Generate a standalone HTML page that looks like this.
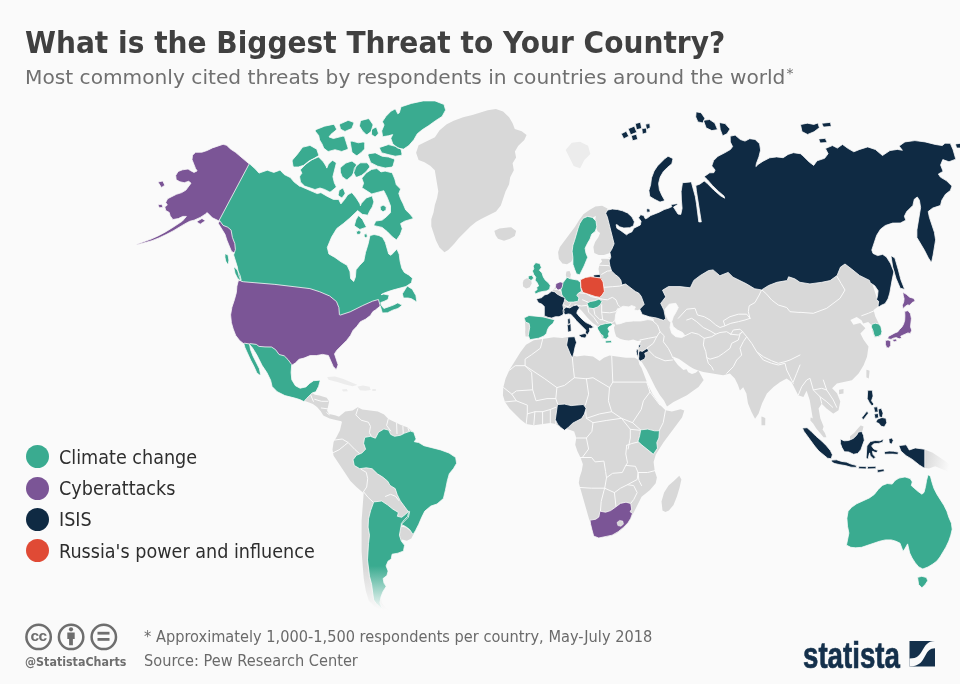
<!DOCTYPE html>
<html lang="en">
<head>
<meta charset="utf-8">
<title>What is the Biggest Threat to Your Country?</title>
<style>
html,body{margin:0;padding:0;}
body{width:960px;height:684px;overflow:hidden;background:#fafafa;font-family:"DejaVu Sans","Liberation Sans",sans-serif;position:relative;}
#map{position:absolute;left:0;top:0;width:960px;height:684px;}
h1{position:absolute;left:25.3px;top:21px;margin:0;font-size:30.2px;line-height:44px;font-weight:bold;color:#404040;white-space:nowrap;transform-origin:0 0;transform:scaleX(0.9295);}
h2{position:absolute;left:25px;top:62.7px;margin:0;font-size:19.6px;line-height:30px;font-weight:normal;color:#707070;white-space:nowrap;transform-origin:0 0;transform:scaleX(1.029);}
h2 sup{font-size:13.5px;line-height:0;position:relative;top:2px;left:1px;vertical-align:super;}
.leg{position:absolute;left:26.2px;height:24px;}
.leg i{position:absolute;left:0;top:0.5px;width:23px;height:23px;border-radius:50%;}
.leg span{position:absolute;left:32.6px;top:1.1px;font-size:19.1px;line-height:24px;color:#2e2e2e;white-space:nowrap;transform-origin:0 0;transform:scaleX(0.922);}
.foot{position:absolute;left:144px;font-size:16.2px;line-height:20px;color:#6a6a6a;white-space:nowrap;transform-origin:0 0;transform:scaleX(0.9);}
.handle{position:absolute;left:25px;top:654.1px;font-size:12px;line-height:16px;font-weight:bold;color:#6e6e6e;white-space:nowrap;transform-origin:0 0;transform:scaleX(0.925);}
.logo{font-family:"Liberation Sans",sans-serif;position:absolute;left:802.7px;top:634.3px;font-size:36.8px;line-height:44px;font-weight:bold;color:#14304b;white-space:nowrap;transform-origin:0 0;transform:scaleX(0.752);-webkit-text-stroke:0.7px #14304b;}
</style>
</head>
<body>
<svg id="map" viewBox="0 0 960 684" width="960" height="684">
<defs>
<linearGradient id="fadeS" x1="0" y1="0" x2="0" y2="1"><stop offset="0" stop-color="#fafafa" stop-opacity="0"/><stop offset="1" stop-color="#fafafa" stop-opacity="1"/></linearGradient>
<linearGradient id="fadeE" x1="0" y1="0" x2="1" y2="0.25"><stop offset="0" stop-color="#fafafa" stop-opacity="0"/><stop offset="1" stop-color="#fafafa" stop-opacity="1"/></linearGradient>
</defs>
<path fill="#ececec" d="M327.3,377.4 327.6,377 335,376.4 343.4,379.1 357,384.7 357.2,385.1 352.6,386.2 345.3,384.5 339,382.4 328.6,379.7Z M357.6,386.9 357.8,386.4 363,385.4 369.5,386.8 370.8,390.1 365.2,390.8 360,390.2Z M342,390.1 342.2,389.6 346.4,388.9 346.7,389 347.8,390.9 347.5,391.2 343.3,391.6Z M372.2,389.2 372.5,388.9 375.9,389 375.9,391.1 372.3,391.1Z M565.7,150.1 565.8,149.8 571.8,142.8 580,141.7 588.1,145.7 590.3,153.9 584.2,160.2 580.3,168.1 579.9,168.3 573.7,166.1Z"/>
<path fill="#d8d8d8" d="M641.5,340.4 637.5,340.9 633.2,339.4 628.9,340.6 624.5,340.1 620,338.7 616.2,336.5 614.7,331.9 613.9,327.5 615.3,324.7 612.8,324 610,324.8 608.6,325.4 607.2,328.1 608.7,331.9 605.8,337.7 602.4,338.7 600.8,334.8 598.6,330.4 597.9,326.9 596.5,325.5 593.4,323.5 590.5,320.8 587.3,317.4 581.7,310.8 578.8,308.1 573.3,306.7 563.8,312.1 562.3,315 558.9,316.4 555.4,316.4 552.3,317.6 554.1,320.1 554.2,320.4 552.7,323.3 549.2,326 547.2,329.4 546.4,333 543.6,335.9 538.6,337.9 530.4,339.3 530,339.2 528.4,336.5 525.6,336.4 525.1,322.8 524.4,318.1 528.9,315.8 542.7,317.2 544.6,315.3 544.6,306.5 541.9,303.9 538.3,302.3 536.9,299.3 541.9,297.8 544.8,295 548.2,294.3 551.6,291.6 554.3,288.8 556.6,283.9 560,282.5 562.8,283.2 566.8,277.8 566.4,271.9 566.6,271.6 569.3,271.1 569.7,271.3 570.9,274.5 570.2,277.8 573.4,279.7 577.7,280.5 579.9,282.3 581.6,279.7 585.7,277.6 590.7,276.9 594.3,277.5 593.2,275.8 593.3,275.4 599.5,274.7 598.5,269 599.6,263.9 602.1,261.4 601,259.1 601.3,258.7 607.1,258.2 611.3,257 624.9,249.7 700,229.7 800,229.7 863.1,255.7 879.3,305.4 879.2,305.7 873.6,310.1 875.3,316.6 878.6,323.2 881,329.9 880.3,336 880.1,336.3 875.1,337.6 874.7,337.4 872.4,331.7 871.4,325.1 868.2,322 863.2,323.6 861.5,320.2 856.7,317 850.4,320.1 853.4,324.7 860.2,323.1 865.2,328.1 865.2,328.5 860.4,333.4 863.6,339.8 868.5,346.5 867,356.7 863.6,365.2 858.6,373.5 851.9,380.2 836.9,383.6 832.1,388.3 837,393.2 840.3,401.6 838.5,410.3 833.5,413.6 833.1,413.5 826.5,408.5 821.7,403.8 818.6,408.4 820.3,418.2 823.6,426.6 822,431.8 821.7,432 816.5,426.9 813,420.1 809.7,400.1 806.6,390.8 803.4,397 798.2,395.3 791.5,381.9 786.7,378.6 780.2,382 773.5,386.9 766.9,393.5 762,403.4 758.6,413.4 755.3,418.5 754.9,418.6 751.4,411.8 748,403.4 746.4,393.4 743.2,387.2 740.2,390.2 739.8,390.3 738,385.1 734.8,378.5 729.9,373.6 723.2,375.3 703.3,372 697.4,370.3 693.2,368.6 689.8,366.6 679.1,359.1 672.9,356.5 673.5,359.2 677.9,365 683.4,369.9 686.6,369.2 688.2,372.3 692,374 695.7,372.7 698.1,370.8 698.6,370.9 703.6,379.9 703.5,380.2 698.5,386.9 686.9,395.2 673.5,402 667,406.5 664,400.5 659.8,395 655.4,387.4 646.6,369.7 641.5,361.6 639.8,361.3 639.5,361.1 637.6,353.6 639.1,344.9Z M416.1,152.7 418.6,145.3 434.9,137.2 439.6,130.2 446.7,124.3 453.7,120.8 463.1,117.2 472.4,114.9 487.7,110.2 495.9,109.1 503.1,111.5 509.1,117.3 512.6,123.2 514.8,129 521.7,131.3 526.6,135 524.3,139.9 518.3,145.8 514.9,151.6 516.1,157.5 512.6,163.3 513.8,170.3 510.2,177.3 509.1,184.3 505.6,191.3 500.8,205.5 496,211.4 482,218.4 476.2,221.8 470.4,226.5 458.7,238.2 454,244.1 448.2,249.9 444.4,252.3 439.5,247.5 436,240.5 431.3,226.3 431.3,219.2 433.6,212.2 434.8,205.2 437.1,198.1 438.3,191.2 434.8,170.3 430.2,165.7 424.5,162.3 418.6,159.9Z M494.4,231.1 494.6,230.7 499.4,228.4 511.1,227.2 516,230.8 516.1,231.1 514.8,236 510,238.8 504,240.7 498,238.7 495.6,235.3Z M302.7,396.9 302.9,396.5 307.7,394.4 312.5,393.1 314.8,394.8 319.4,395.6 326.7,397.7 329.2,401.4 327.1,410.8 329.1,414 335,415.3 339.2,416.7 342,418.9 342,419.3 340.1,420.9 334.8,419.8 329.6,418.6 323.3,415.4 320.7,411.2 317,407 312.9,403.9 307.7,401.9 304.1,400.8Z M338.8,417.2 338.9,416.8 345.2,411.6 352.6,410.5 357.7,407.3 362.2,409.4 377.9,411.5 384.1,414.6 388.4,418.9 400.9,425.1 407.1,427.2 411.4,430.4 415.7,438.9 413.8,441.9 418.7,442.8 423.9,446 440.6,450.2 448.9,453.3 455.4,457.7 456.4,463.2 453.2,468.4 449.1,473.5 447,480.9 445.1,490.3 443,498.6 436.8,503.7 430.6,505.9 424.5,510.9 421.6,516.9 418.5,524.1 411.3,538.4 406.9,540.7 402,539.6 401.1,541.4 404.2,545.6 403.2,550.7 397.8,552.9 391.9,554 390.9,558.9 387.7,561 385.8,565.9 387.8,570.9 386.8,575.2 382.7,578.3 383.7,583.2 385.7,586.2 385.8,586.6 382.7,591.6 380.7,596.6 381.7,602.7 385.7,607.7 389.8,610.7 389.9,610.9 389.6,611.2 383.3,610.2 375,607.1 368.8,600.8 365.7,590.6 363.7,578.2 361.6,551.6 361.6,520.9 363.7,492.6 362.9,492.5 356.7,487.2 350.4,481 333.6,455.8 332.5,449.4 333.6,442.1 336.7,436.8 339.9,430.5 341.9,422.2Z M523.7,279.9 526.8,278.3 529,278.6 531.1,279.7 531.7,283.6 529.7,287.2 526.2,288.6 523.1,286.4 522.8,282.8Z M525.1,322.8 525.4,322.5 529.6,323 529.9,323.3 530.3,327.2 528.9,336.2 528.6,336.5 525.8,336.5 525.5,336.2 525.1,331.4 525.8,327.2Z M558.1,252.3 559.9,247 575,226.8 579.2,220.1 583.4,214.2 589.4,209.9 595.4,206.6 602.1,205.7 607.5,208.4 606.5,212.9 600.6,213 592.2,218.1 587.8,217.3 583.8,218.8 580.6,223.8 573.8,245.6 573,251.4 573.8,257.3 571.2,261.8 567,264.3 562.4,263.4 558.9,259Z M595.9,215.3 600.5,212.4 606.3,212.4 606.6,212.6 608.3,216.9 615,243.8 612.5,249.8 609.1,253.3 603.9,255.1 598.7,255.1 594.3,253.1 593.4,247.1 595.1,242.1 598.5,237 600.1,233 597.6,231.3 595.9,227 595.1,221.2Z M566.4,271.8 566.6,271.6 569.3,271.1 569.7,271.3 570.9,274.5 570.1,278.1 567.1,278.2 566.8,278 565.8,275Z M526,344.7 533.8,340.2 542.6,339.1 553.6,337.3 562.3,338 567.8,336.9 574.4,337.3 574.7,337.5 575.8,342.8 574.7,348.3 572.6,355.6 576.6,356.6 584.3,355.5 593,356.6 599.6,360.9 603.9,357.7 609.5,355.5 625.9,357.7 634.9,357.8 638.3,360.1 639.4,364.5 641.5,367.8 648.1,385.3 652.5,394 656.8,400.6 660.1,404.9 665.5,410.3 671.9,411.4 680.6,409.2 684.3,410.5 682,417.4 663.4,442.6 659.1,449.2 655.8,454.6 653.6,462.1 654.7,470.8 656.9,477.4 655.7,483.2 650,490 641.6,496.7 631.6,516.8 624.7,527 616.2,533.8 606.1,537.2 597.5,535.5 592.3,528.6 588.9,518.5 578.8,483.1 579.6,477.5 581.8,470.8 582.9,464.3 580.7,457.9 577.4,451.3 575.2,444.7 576.3,438 574.2,431.6 568.8,429.6 562.3,428.5 555.7,424.1 550.3,423 533.8,425.2 526.2,424.1 520.5,419.6 509.5,408.6 505,402 502.9,395.3 503.3,387.5 505.5,378.7 509.4,369.9 520.4,352.3Z M662.5,510.5 661.5,501.4 664.1,492.4 668.6,485.4 673.8,481 679.3,475.7 681.4,479.6 679.6,487.5 677,496.2 673.5,505 668.9,510.5 665.4,511.9Z M924,449.7 924.4,449.4 932.2,452.5 939.9,457.5 947.5,462.7 952.1,468.9 950.7,472.3 950.3,472.5 935.1,466.3 929,468.5 924.1,467.7Z M866.4,370 866.8,369.7 869.6,370.8 868.8,378.6 866.6,377.6 866.4,377.3Z M839,390 839.2,389.7 843.5,389.1 843.5,393.5 839.1,394.2Z M761.4,416.7 761.8,416.4 765.1,418 765.3,418.3 765.2,425.2 761.5,425.2Z M850,436.3 854.1,432.9 857.4,428.9 860.6,425.6 860.9,425.5 863.5,426.5 862.7,430 861.9,431.9 858.6,432.6 857,435.7 853.7,438.9 850.1,439.4Z M810.6,417.8 811,417.5 814.3,419.2 817.5,424 821.6,428.1 824.9,433 826.4,437.3 823.6,437.3 816.3,428.5 813.1,423.6 810.4,420.4Z"/>
<path fill="#fafafa" stroke="#fafafa" stroke-width="0.8" stroke-linejoin="round" d="M617.9,309.1 623,306.2 628.9,306.9 631.5,305.5 635.4,306.9 634,309.9 637.6,310.6 642,309.1 644.9,311.3 642.7,313.5 649.3,316.4 653.7,319.4 653.7,320.4 647.9,319.6 640.6,321 633.2,321 625.9,321.7 620.1,323.7 616.4,324.2 615,320.1 615.7,314.2Z M665,309.2 669.2,304.2 675.8,303.3 678.3,307.5 675.8,312.5 673.3,316.7 671.7,321.7 673.3,326.7 677.5,330 682.5,332.5 685,335.8 681.7,337.5 675.8,336.7 671.7,333.3 670,327.5 670.8,322.5 668.3,320 665.8,315Z"/>
<path fill="none" stroke="#fafafa" stroke-width="1" stroke-linejoin="round" stroke-linecap="round" d="M357.9,408.7 355.8,414.9 361.1,420.2 368.4,422.2 370.5,426.4 369.4,432.7 371.9,437.3 M388.2,419.1 386.6,425.4 390.7,431 M396.6,423.3 397,433.7 M402.9,426.4 403.3,434.4 M408.1,428.5 409.5,432.3 M334.9,440 342.2,439 348.1,442.5 354.8,449.4 360,454 M333.5,452.5 339.1,449.8 344.8,445.2 348.1,442.5 M363.1,492.3 366.7,487 367.7,478.7 366.3,472.4 361.1,469.3 M364,492.3 368.1,497.4 373.6,502.5 M385.5,496.4 390.6,494.3 395.7,496.4 398.8,500.5 M400.8,526 405.9,527.1 410,530.1 M678.3,318.3 686.7,309.2 695,308.3 697.5,315 704.2,316.7 710,320 715.8,325 720,327.5 725,325.8 723.3,320.8 730,316.7 738.3,314.2 746.7,314.2 750,318.3 M750,318.3 748.3,311.7 749.2,305.8 755,302.5 759.2,295 761.7,289.7 766.7,294.2 771.7,300 778.3,305 786.7,307.5 790,311.7 800,312.5 M685,335.8 691.7,332.5 698.3,334.2 704.2,338.3 711.7,336.7 715.8,334.2 720,332.5 726.7,331.7 730.8,334.2 M686.7,320 691.7,318.3 696.7,321.7 703.3,327.5 710,330.8 715.8,334.2 M725,325.8 730.8,323.3 738.3,321.7 745,320 750,318.3 M730.8,334.2 733.3,330 740,329.2 742.5,331.7 738.3,335 730.8,334.2 M742.5,331.7 740,334.2 738.3,340 731.7,343.3 730,348.3 723.3,353.3 718.3,356.7 710,359.2 706.7,357.5 M704.2,338.3 703.3,345 705.8,351.7 706.7,357.5 708.3,363.3 711.7,366.7 713.3,370 M650,318.3 657.5,325 660,331.7 664.2,335.8 663.3,341.7 668.3,348.3 671.7,355 672.5,357.5 M640,340 648.3,338.3 656.7,336.7 660,331.7 M656.7,336.7 653.3,343.3 646.7,348.3 655,356.7 665,360.8 672.5,360 M742.5,331.7 746.7,336.7 743.3,341.7 740,348.3 741.7,355 736.7,360 733.3,366.7 730,370 726.7,373.3 M746.7,336.7 751.7,343.3 756.7,351.7 763.3,356.7 771.7,360.8 778.3,363.3 785,361.7 790,360 795,357.5 800,355 M756.7,351.7 763.3,360 771.7,363.3 778.3,365 785,363.3 786.7,370 790,376.7 793.3,383.3 M800,312.3 813.3,313.3 826.7,308.3 840,298.3 845,290 841,283.3 836.7,276 M861.7,315.7 868.3,313.3 874.3,310.7 M542.6,339.4 540.4,348.2 531.6,354.7 525.1,359.1 525.1,365.7 515.2,365.7 509.7,370.1 M525.1,365.7 531.6,372.3 532.7,389.8 516.3,390.9 511.9,394.2 M525.1,365.7 544.8,378.8 556.9,387.6 564.5,385.4 574.4,377.7 586.4,378.8 M572.2,356.5 573.3,367.9 574.4,377.7 M611.7,355.8 612.8,382.1 646.7,382.1 M586.4,378.8 593,377.7 609.5,387.6 612.8,382.1 M586.4,378.8 588.6,394.2 585.4,405.1 M609.5,387.6 608.4,400.8 611.7,411.7 621.5,418.3 632.5,422.7 641.2,430.4 M556.9,387.6 555.8,398.6 558,405.1 M532.7,389.8 536,400.8 547,398.6 555.8,398.6 M526.2,423.8 527.3,413.9 534.9,411.7 M533.8,424.9 534.9,411.7 542.6,411.7 M542.6,423.8 542.6,411.7 550.3,409.5 M550.3,422.7 550.3,409.5 555.8,407.3 M555.8,423.8 555.8,419.4 M505.3,401.9 516.3,400.8 527.3,405.1 527.3,413.9 M503.6,387.6 511.9,394.2 516.3,400.8 M585.4,408.4 586.4,418.3 593,422.7 591.9,431.4 586.4,438 576.6,438 M586.4,418.3 599.6,413.9 611.7,411.7 M593,422.7 606.2,420.5 621.5,418.3 M586.4,438 588.6,449 582.1,457.8 M621.5,418.3 630.3,429.3 630.3,438 628.1,449 M630.3,429.3 641.2,430.4 M646.7,382.1 650,392 643.4,400.8 641.2,409.5 632.5,422.7 M665.4,410.6 663.2,422.7 658.8,431.4 M650,392 659.9,405.1 M600.4,511.9 601.2,501.4 603.9,490.9 604.7,488.2 M578.4,487.4 591.6,488.2 604.7,488.2 614.4,492.6 616.1,507.5 M614.4,492.6 620.5,488.2 627.5,484.7 633.7,485.6 637.2,492.6 633.7,499.6 630.2,504 M604.7,488.2 606.5,477.7 612.6,473.3 622.3,472.5 625.8,465.4 635.4,466.3 638.1,472.5 637.2,479.5 627.5,484.7 M579.3,457.5 591.6,457.5 595.1,461.9 603.9,461.1 605.6,471.6 606.5,477.7 M638.1,472.5 647.7,472.5 654.7,470.7 M638.1,472.5 638.9,480.4 641.6,485.6 M626.7,445.3 625.8,454 627.5,462.8 625.8,465.4 M638.9,441.8 652.1,453.2 M626.7,445.3 631.9,443.5 638.9,441.8 M601.7,274.3 607.3,271.1 612.3,270.5 615,269.9 M604.2,287.3 612.3,286.7 619.8,286.1 624.8,284.2 M601.7,299.1 607.3,299.8 612.3,297.3 616,299.8 617.9,304.7 619.8,306.6 M601.7,312.2 609.8,312.8 616,311.6 617.9,308.5 M601.7,304.7 601.7,312.2 602.6,319.7 608.6,322.1 612.3,322.8 616,319.7 617.3,317.2 M599.3,257.7 611.1,258.7 M599.3,265.2 611.1,265.8 M575,291 580,292.9 586.2,293.5 591.2,296.6 597.4,297.9 601.7,299.1 M582.5,299.8 588.1,302.2 M575,304.7 581.2,306 587.4,305.3 588.7,312.2 593.7,317.2 598,323.4 M593.7,308.5 594.9,314.7 599.9,319.7 602.6,319.7 M554.6,289.3 558.1,289.7 561.5,291.4 562.2,294.6 M562.9,302.2 564.3,305.7 568.5,306.7 570.6,303.6 M566.7,277.9 569.9,278.3 M310.9,395.5 313.4,401.3 M314.7,399.3 321.3,401.3 328,401.3 M321.3,408 328,408.9 M326.8,412.8 329.3,414.7 M798.3,395 801.7,386.7 806.7,380 810,378.3 813.3,390 820,396.7 821.7,403.3 M823.3,380 826.7,390 833.3,400 836.7,407.3 M813.3,390 821.7,388.3 826.7,390 M820,396.7 826.7,401.7 832.7,407.3 M793.3,381.7 796.7,373.3 800,365"/>
<path fill="#7b5596" stroke="#fafafa" stroke-width="0.8" stroke-linejoin="round" d="M249.8,164.6 219.6,221.3 212.4,217.8 207.2,212.6 205.3,214.2 200.3,217.4 194.1,220.2 189.7,221.3 184.8,223.9 173.1,230.9 166.1,234.6 159,237.9 152,240.7 137.1,244.8 136.7,244.6 136.9,244.2 151,239.1 158,235.9 165,232.2 171.9,228 182.4,221.1 186.4,216.4 182.7,216.4 178.3,218.6 173.1,219.5 172.8,219.4 170.2,215.9 169.2,212.4 165.7,210.5 164.8,206.8 167.3,205.1 165.7,202.4 167.6,198.7 176.4,194.3 181.7,192.6 185.9,190.1 191,183.2 188.7,181.3 184.3,182.7 179.9,181.8 176.2,179.7 175.7,175.4 178.1,171.5 182.5,169.8 188.1,169 190.7,170.7 194,172.4 197.1,170.9 195.5,168.4 192,159.6 192.5,155.2 195.6,152.3 201.9,152.2 207.1,150.5 212.4,147.9 223.1,144.3 226.7,145.3 230.2,148.8 235.5,152.3 249.7,164.3Z M219.7,219.5 220.1,219.4 220.5,219.6 224,224.5 228.4,226.2 232.3,229.7 233.6,237.1 236,243.4 236.6,249.6 235,252.8 234.7,253.1 234.2,253 231.4,251.2 226.9,240.2 225,234.3 218.5,223.8 218.4,223.3Z M158.4,182.7 158.3,182.2 158.8,181.8 162.8,181 164.8,185.2 161.9,187.3 161.5,187.4 161.1,187.1Z M158.3,205.4 158.4,204.9 158.8,204.6 161.9,204.3 162.7,206.8 162.6,207.2 162.2,207.5 159.2,207.8Z M196.9,222 197.2,221.3 201.6,218.7 202.2,218.7 205.2,220.4 204.9,221.1 200.2,224.2Z M238.2,281 238.8,280.6 243.8,280.6 275,283.2 310.2,287.4 320.2,290.6 330.2,294.9 337.4,300.7 340.1,307.3 340.5,313.7 349.8,310.6 362.2,304.5 372.3,300 378.6,298.2 379.1,298.3 379.4,298.6 381.1,304.8 380.9,305.5 375.4,310 372.9,311.6 370.4,315.5 365.4,319.3 360.4,321.7 356.7,326.6 353,330.4 350.5,335.4 346.7,340.4 336.7,350.4 334.5,353.9 338.1,364.8 336.5,369.3 335.8,369.2 333.2,366.4 328.4,355.5 322.5,354.4 316.3,355.6 310.1,355.6 304,358.1 299.1,359.3 295.3,363 291.5,365.5 291.1,365.6 290.7,365.4 287,360.4 283.5,356.7 278.3,355.4 274.6,350.4 271,348.1 265,348.1 258.8,347.6 256,345.6 249.9,344.8 244.5,344.4 239.6,340.5 235.7,335.4 233.2,329 231.4,322.7 230.6,314.9 231.9,307.3 234.4,299.8 236.4,292.4 236.9,286.2Z M555.8,284.1 556.4,283.4 559.8,282 560.3,281.9 563.1,282.6 563.6,283 563.8,283.6 563.4,286.3 561.5,288.9 558.3,289.9 557.4,289.6 555.7,287.5 555.5,286.8Z M590.1,520.8 590.2,520.3 590.6,520.1 595.8,519.2 598.9,516.9 599.8,511.8 600.1,511.4 600.5,511.3 605.6,512.2 610.6,510.6 615.7,507 620.4,503.4 626,502.2 630.4,503.4 630.8,503.9 631.7,509.2 630.1,511.7 632.5,513.5 630.7,518.4 627.9,522.9 623.6,527.3 618.2,531.7 612.1,535.2 598.7,538 594,536.2 593.6,535.8 591.9,529.6 590.6,524.3Z M902.9,292.9 903.4,292.6 906.3,294.3 909.7,297.2 913.8,298.4 915.2,301.2 912.2,302.5 909.8,305.3 907.4,304.9 905.2,306.5 903.2,308.4 902.9,308.2 902.3,305.2 903.7,302.1 904.1,298.7 903.3,295.9Z M904.7,311.6 904.9,311.3 907.8,310.7 908.1,310.8 910.5,313.8 911.4,318.6 910.5,326.8 911.7,330.2 910.5,333.3 910.1,333.5 907.9,332.9 900.7,336.2 901.8,338 899.2,338.8 896.2,337.6 893.4,338.2 891,339.4 887.9,338.8 887.7,338.4 888.4,336.4 894.9,332.9 897.8,331.8 899.5,329.5 901.8,327.2 903.5,324.3 904.7,320.3 904.9,315.7Z M885.4,340.8 885.6,340.5 888.1,339.9 890.5,341.1 890.7,341.4 890.7,345.5 888.8,348 888.5,348.1 886.5,347.4 885.4,344.3Z M892.5,339.7 892.7,339.4 896.3,338.9 897,340.9 893.8,342Z"/>
<path fill="#3aab90" stroke="#fafafa" stroke-width="0.8" stroke-linejoin="round" d="M249.6,344.6 249.4,344.2 249.6,343.7 250.1,343.6 256.3,344.4 259,346.4 265,346.9 271.5,347 275.5,349.6 279.1,354.5 284.2,355.8 288,359.6 291.7,364.6 291.1,372.5 291.8,379.8 295.4,385.7 300.1,388.2 305.9,386.9 309.6,383.4 313.5,380.7 319.5,380.2 320,380.4 320.1,381 318.6,386.4 316,391.5 315.7,391.8 312.1,393 306.6,398.4 303.9,401.6 299.8,399.6 294.8,398.1 284.9,395.6 277.2,391.7 272.1,386.6 270.6,380.2 267,372.8 262,365.3 257,355.3 252.5,347.9Z M243.9,344 244.2,343.3 244.6,343.2 249.1,343.9 249.6,344.4 250.6,349.8 253,356 259.4,368.7 260.6,374.4 260.5,374.8 260.1,375.1 259.7,375 257,373.2 254,366.5 250.7,360.2 245,347.7Z M299.3,185.9 299.6,186.3 300.2,186.2 317.2,193.6 320.7,192.7 321.1,192.8 327,196.2 333.4,199.4 338.3,199.4 338.8,199.7 340.9,203.9 344.5,199.6 347.8,194.7 351.4,192.8 352.2,192.9 356.3,198 360,203.9 360.4,205.8 361.4,203.3 366.3,197.9 371.5,196.1 372,196.2 372.3,196.5 373.9,201.9 372.3,206.9 369.6,211.2 367.8,215.2 362.2,214.3 357.7,210.6 349.9,218 343.7,223.3 336.8,228.5 331.6,237.1 327.3,247.4 328.9,254 334.9,257.4 341,261.8 347.1,265.3 350,271.7 350.6,278.6 353.7,281.5 355.4,277.1 356,269.8 359.6,265.4 363.8,261.1 365.5,252.5 368.2,243.7 369.9,235.9 370.4,235.4 374.1,234.5 378.9,235.5 382.6,237.4 385.3,242.3 388.7,254 391,255.3 396.4,249.6 397.1,249.5 399.2,254.3 400.1,261.3 401.8,268.2 404.3,272.4 408.6,274.9 412.2,277.9 412.4,278.5 411.5,282.6 411.2,283 405.9,286.5 392.7,290.1 387.4,291.8 383.1,293.5 381.1,294.7 383.8,294.1 388.5,295 388.9,295.3 389,295.7 388.1,299.2 387.8,299.6 384,301.4 380.8,302.5 381,304.1 381.4,305.4 383.9,308.4 388.7,306.8 394,304.8 397.4,303 398,303 401.5,304.8 401.7,305.1 401.6,305.8 397.9,308.5 392.7,310.2 387.5,312.8 382.8,312.9 382.2,312.5 380.3,306 379.9,305.4 379.8,304.3 378.4,299.5 372.7,301.1 362.8,305.5 350.2,311.8 340.2,315.1 339.7,315 339.4,314.5 338.9,307.6 336.5,301.6 329.7,296 319.8,291.8 309.9,288.6 274.9,284.4 243.8,281.8 241.5,281.4 241,281 238.6,274.7 237.4,267.1 233.6,254.9 235.4,249.6 234.8,243.6 232.4,237.4 231.1,230.1 227.7,227.2 223.1,225.4 219.5,220.4 219.5,219.7 249,164.2 249.4,163.9 249.9,164.1 255.4,169.1 259,173.1 267.3,170.2 273.8,172.4 279.8,170.2 280.4,170.4 284.2,174.5 290.3,177.5 294.2,182.1Z M225,254.5 225.5,253.9 225.9,254 227.8,255 228.1,255.4 228.9,260.1 228.4,263.6 228.1,264 227.7,264.1 227.3,263.8 225.7,261.1 224.9,257.1Z M233.9,268.1 234,267.6 234.5,267.4 234.9,267.6 237.5,270.2 240.1,275.4 241.1,279.9 241,280.3 240.6,280.6 240.1,280.5 237.5,278.3 235,273.3Z M406.9,286.5 407.3,286.2 407.7,286.3 412.3,289.2 415.9,295.5 416.7,300.8 416.6,301.2 416.2,301.5 415.8,301.4 411.6,298.8 408.1,298 403.9,298 403.3,297.5 402.4,294 402.5,293.6Z M400.9,107.3 401.4,106.7 411.4,103.4 423.1,100.9 435,100.9 443.6,104.3 444.1,104.8 445.5,109.8 445.4,110.4 442.1,116.5 435.5,120.7 428.8,125.6 422.2,129.8 417.3,133.8 413.9,139.7 408.9,145.5 403.7,149 403.2,149.1 397.8,148.1 392.8,143.9 390.9,138.5 391,137.9 392.7,134.6 388.4,135.8 383.4,136.6 382.8,136.4 382.5,135.9 381.7,130.9 384.1,125 382.6,122.1 382.6,121.3 386,116.3 391.1,111.1 394.6,109.3 395.2,109.2 395.7,109.6 397.8,113.8 399.3,112.8Z M379.7,148.8 379.7,147.8 380.4,147.2 387.9,144.7 388.6,144.6 395.3,146.3 400.5,148.9 401.2,149.8 402,154 401.8,154.9 401,155.4 395.2,156.2 388,154.5 382.2,152.9 381.4,152.2Z M368,155.5 368.1,154.3 369,153.7 374.8,152.9 375.6,153 382.1,156.2 388.5,157 393.7,158.8 394.4,159.4 394.6,160.3 393,166.1 391.9,167.1 385.2,168 377.7,166.2 371.1,162.9 370.5,162.2Z M315.6,131.7 315.3,130.4 316.2,129.5 324.5,126.2 333,124.4 333.9,124.5 334.6,125.2 336.3,128.6 336.4,129.5 335.9,130.3 331,134.3 329,136.9 333.4,138.5 343,136.1 344,136.3 344.6,137.1 348,147.8 348,148.9 347.2,149.6 342.2,151.3 341.4,151.4 335,149.7 328.6,151.4 327.5,151.1 324.2,148.6 323.7,148 322,143.9 319.6,139.9 318.7,135.6Z M350.3,142.7 350.5,141.8 351.1,141.2 352,141.1 358.4,142.8 363.1,141.9 364.2,142.2 364.7,143.3 364.7,148.3 364.3,149.3 361,152.7 357.5,155.3 356.7,155.6 355.9,155.3 352.5,152.8 351.9,152Z M339.5,125.3 339.6,124.4 340.3,123.8 347.8,120.5 348.8,120.5 353,122.1 353.7,122.8 353.7,123.8 352,128 351.3,128.7 345.5,131.2 344.4,131.2 341.1,129.5 340.4,128.6Z M360.4,121.4 361.4,120.4 368,118.7 368.8,118.8 369.4,119.3 372.8,124.3 372.9,125.4 371.2,131.2 370.8,131.8 367.5,134.3 366.6,134.6 365.8,134.2 362.4,130.9 359.7,126.5 359.5,125.5Z M371.5,130 372,129.1 375.3,127.4 376.2,127.4 376.7,128 378.4,133 378.2,134 375.7,136.5 375.1,136.8 374.5,136.6 372,135 371.5,134.2Z M292.1,161 292.4,160 297.4,154.2 302.3,147.6 303,147.1 309.7,145.5 310.6,145.7 316.4,149 316.9,149.6 318.6,154.6 318.6,155.4 318.1,156 313.8,158.6 309,161 303.7,165.3 298.3,167 294.2,167 293.4,166.7 293,166Z M300.6,170.5 300.5,169.8 300.9,169.2 306,164 311.8,159.8 317.8,157.2 318.5,157.1 319.1,157.5 323.3,161.7 326,166.1 326.8,168.1 328.4,164.2 331.7,160.9 332.4,160.5 333.1,160.7 335.6,162.3 336.1,162.9 336.2,163.6 332.9,176.7 334.4,182.9 336.1,186.2 336.2,187 335.8,187.6 330.8,191.7 329.5,191.9 324.5,189.4 320,188 315.4,189.4 314.6,189.4 304.6,186.1 300.9,182.5 300.5,181.9 299.6,176.9 299.8,176 301.9,173.2Z M340.3,168.3 340.8,167.2 345.8,163.1 351.2,161.2 352.5,161.4 355.8,163.9 356.3,164.6 356.3,165.5 354.6,170.5 352.1,175.6 347.6,179.4 346.7,179.7 345.9,179.4 342.5,176.9 342,176.3 340.4,172.2Z M354.4,168 354.9,167.2 359.9,163.1 360.8,162.8 366.7,162.8 367.9,163.4 369.5,165.9 369.7,166.8 369.4,167.6 365.9,171.9 361.7,175.3 357.2,177.1 356.2,177.1 355.5,176.4 353.8,173.1 353.6,172.2Z M339,190.6 339.5,190 342,188.4 342.8,188.2 343.4,188.8 345.1,192.9 345,193.9 342.5,197.3 341.9,197.7 341.1,197.5 338.6,195.8 338.2,194.8Z M354.7,226 354.4,225.3 355.9,219.8 358.1,216 358.5,215.7 359,215.9 362.5,219.5 366.1,226.5 366.2,227 365.8,227.4 360,229.4 359.5,229.3Z M361.9,178.5 362,177.9 366.2,172.9 371.6,169.4 376.6,168.6 377.1,168.7 381,171.9 385.1,171.1 391.8,172.7 392.3,173.1 394.8,179 396.3,184.7 400.6,189.1 398.8,193.5 400.5,198.6 403.1,203.8 405.7,209.9 410.1,214.2 413.2,218.1 412.8,218.7 404.6,221.2 400.6,223.6 402.3,228.8 400.4,234.2 396.9,239.4 396.5,239.7 396,239.6 392.5,237 387.2,231.6 382.1,227.4 374.4,225.7 374,225.4 374,224.8 375.7,221.3 376.1,221 382.2,220.1 386.4,216.8 390.5,212.6 390.5,205.9 387.1,197.2 383.8,190.7 371.9,193.9 371.4,193.8 361.9,187.7 363.6,183.3Z M380.2,207.2 380.5,206.6 382.8,205.3 383.4,205.3 386.2,206.8 386,209.8 385.7,210.2 383.4,211.6 382.8,211.6 380.8,210.2 380.5,209.8Z M356.3,231.9 356.6,231.6 358.4,230.7 358.9,230.6 360.6,231.3 361,232 360.4,234 357.7,234.5 357,234.1Z M364.2,234.7 364.6,234.1 366.4,233.8 366.7,234.1 367.4,236.2 366.1,237.5 365.7,237.7 365.3,237.5 364.2,236.3Z M364.6,437.8 365.1,437.3 370.4,436.3 375.4,438.2 378.5,432.2 383.7,429.1 384.1,429 388.3,430 388.7,430.3 390.7,434.4 394.6,436.3 400.6,435.2 404.7,433.1 410.4,431.1 413.5,432.1 413.9,432.5 416,438.8 415.9,439.3 414.3,441.7 418.8,442.6 424,445.7 440.6,449.9 449,453 455.4,457.3 455.7,457.7 456.6,463.3 453.5,468.6 449.3,473.7 447.3,480.9 445.4,490.3 443.4,498.5 437,504 430.8,506.1 424.8,511.1 421.8,517.1 418.7,524.3 415.6,530.4 413.3,534.2 412.6,533.9 409.6,529.5 405.6,526.5 401.5,524.5 401.2,524.1 401.3,523.6 404.4,519.5 407.5,516.5 408.7,512.2 400.3,500.8 397.2,494.6 395.2,488.6 390,485.4 387.7,481.2 382.7,477.1 377.4,473.8 372.2,468.8 366.3,467.8 359.7,468.7 354.5,465.6 354.2,465.2 353.1,460 353.2,459.5 356.4,455.3 361.8,453.1 365.6,449.2 363.6,443.3Z M373.6,502.3 374.1,501.9 381.7,501 387.8,505.1 392.9,509.2 398,512.2 398.3,512.8 397.4,516.3 401.7,517.3 405.5,514.3 408.6,511.3 409,511.1 409.5,511.3 409.6,511.8 408.4,517.2 401.4,524.3 399.4,535.2 401.3,541.1 404.4,545.1 404.5,545.6 403.5,550.7 403.1,551.2 397.9,553.2 392.1,554.2 391.2,558.9 390.9,559.3 388,561.2 386.1,565.9 388.1,571.1 386.9,575.6 383.1,578.5 384,583.1 386,586.1 386,586.7 382.9,591.8 381,596.8 379.9,602.7 382,607.7 381.9,608.2 381.5,608.5 381,608.3 375.9,603.2 373.6,599.8 371.6,584.4 369.5,576.3 367.5,559.9 368.5,543.4 369.5,535.2 368.1,527.1 368.5,518.9 370.6,510.6Z M533.2,266.2 533.3,265.8 535.3,263 535.9,262.7 539.4,263.4 539.9,263.8 541.3,267.3 541.2,267.9 539.4,270.2 542,272.9 543.3,276.9 545.4,280.3 548.1,282.4 550.2,285.2 550.3,285.7 549.6,289.1 549.3,289.5 546.3,291 542.9,291.4 538.8,292.4 536.1,293.7 535.6,293.8 535.3,293.5 534.5,291.7 537.2,289.5 536.6,287.4 538.6,286 537.4,283.1 535.3,280.4 535.2,279.9 535.8,277.3 533.8,274.6 532.5,271.2 532.6,270.7 533.8,268.8Z M528.3,276.5 528.8,275.9 531.9,275.2 533.7,278 531.4,280.2 530.7,280.2 528.6,279.1 528.3,278.6Z M563,282.7 567,277.3 570.1,278.7 577.6,280.1 580.4,282.3 580.6,282.8 580.9,287.5 581.5,291.3 577.9,293.6 576.8,295.3 578.7,297.7 578.8,298.3 578.1,301 577.6,301.4 573.3,302.1 568.5,302.1 565.2,299.8 563.1,297.1 561.7,294.2 560.9,289.8 562.3,286.7Z M587.2,303.9 587.2,303.3 587.5,302.9 590.3,301.5 594.7,300.7 598.7,299.3 599.4,299.4 601.5,300.8 601.9,301.3 601.8,301.9 600.2,304.9 597.2,307.2 593.1,308.6 589.1,307.9 588.6,307.4Z M524.1,318 524.4,317.7 529,315.5 543,316.9 554,319.7 554.4,320 554.4,320.6 552.9,323.6 549.5,326.2 547.5,329.5 546.6,333.2 543.9,336 538.7,338.2 530.4,339.6 529.7,339.2 528.3,335.5 529.7,327.2 529.1,323.5 525.9,322.3 525.5,321.9Z M597.3,327.9 597.5,327.2 600.4,324.9 605.4,323.6 610.6,323 611.2,323.2 612.1,324.4 612.2,324.9 611.9,325.3 608.6,327.1 607.9,328.8 609.3,331.2 609.3,331.8 608.2,334 609,336.3 606.3,338.9 605.8,339.1 602.9,338.2 603.1,335.7 600.9,334.3 598,329.6Z M605.4,341.6 605.5,341.1 606,340.8 610.8,340.5 611.4,340.9 611.7,342 611.6,342.5 611.1,342.8 606.4,343.1 605.8,342.7Z M583.1,218.3 587.6,216.4 592.4,217.4 596,221.1 596.8,226.9 595.2,231.4 591.7,234.2 590,239.1 587.5,243.3 585.1,248.2 585.9,252.9 587.6,257.1 587.6,257.5 584.1,266 579.9,274.4 579.2,274.7 576.7,273.9 576.3,273.5 574.6,269.3 572.9,264.2 572.9,257.3 572.1,251.3 572.9,245.3 574.6,240.3 578,228.5 579.8,223.4Z M640.6,430.3 641.1,429.8 647.7,429.1 654.5,430.8 658.8,430.8 659.2,431 659.4,431.4 658.9,438 656.8,442.5 657.5,448.2 653.8,453.7 653.4,454 652.9,453.9 641.9,445.1 638.2,441.7 638,441.1 639.6,435.7Z M871.9,324.3 875.2,323.2 878.9,324 880.9,326.7 881.9,331.4 881.2,334.7 878.2,336.4 875,337 873.7,333.9 872.9,330.4 871.3,326.9Z M846.7,545.3 846.5,544.9 848.9,533.1 847.5,526.2 846.9,518.2 848.1,511.3 851.6,507.3 856.6,503.8 869.4,497.9 874.3,494.4 878.2,489.5 882.3,485.4 887.2,483.5 892.2,484.1 895,480.5 899,478.1 905,476.9 910.2,478.6 912.3,481.9 911.3,485.6 918.1,491.5 921.9,494.2 924,492.4 925.5,486.6 926.5,480.7 927.9,475.2 928.4,475 930.4,476.2 932.1,482.7 934,488.6 937,494.4 943.9,505.3 946.9,511.3 948.8,517.2 951.4,523.2 952.2,529.2 950.8,535.2 948.8,541.1 945.9,547.2 940,557 936.9,561 932.9,564 928,567 922.8,569 918.7,566.9 915.3,562.9 912.1,558 909.7,553 907.6,543.9 905.3,548.1 903.3,551.1 903,551.2 900,543.2 896.1,541.3 891.3,539.9 885.4,539.9 879.5,541.3 861.7,547.3 855.7,547.8 850.8,547.3Z M917.6,577.6 917.8,577.3 921.8,576.3 926.5,577.5 927.7,580.7 925.1,584.7 922.1,587.6 921.7,587.6 918.6,584.5Z"/>
<path fill="#0f2a43" stroke="#fafafa" stroke-width="0.8" stroke-linejoin="round" d="M664.2,209.6 669.2,207.9 671.9,206.6 671.2,205.3 671.2,204.7 671.6,204.4 676.9,203.7 677.4,203.9 677.6,204.3 677.3,204.8 673.5,207.1 678,214.1 680.8,214.4 682.1,208.3 681.4,200 681.1,191.6 682.4,183.2 682.9,182.7 690.7,181.9 691.4,182.3 695.3,196.6 696.4,203.2 698.8,221.9 701.3,221.9 696.4,190.9 695.8,185.5 699.7,184.2 703.9,181.2 704.6,181.2 707.1,183.3 713.7,189.9 720.4,195.7 724.7,198.2 724,196.1 718.3,191.2 712.4,185.4 707.4,179.7 704.6,177.1 704.4,176.7 704.7,176.2 709.7,172.8 713.8,172.7 715.1,170.1 712,166.2 711.9,165.6 713.6,160.6 718,156.2 724.7,152.8 730.4,149.5 732.6,146.6 730.3,142 730.2,136.7 730.7,136.1 734.9,135.2 735.4,135.3 740.3,139.5 745,141.1 749.7,138.7 755.1,139.4 759.6,143.8 760.6,150.1 758.9,156.9 756.4,163.5 755.9,166.6 758,164.5 763,161.2 769.7,157.8 776.6,156.9 783.2,157.7 788.1,154.4 793.4,152.7 800.4,153.7 802.9,155.8 809.2,162 813.7,165.4 817,160.8 824.6,158.3 828.1,153.7 825.7,149.1 825.6,148.6 826,148.2 832.3,145.6 832.8,145.7 837.4,148.1 842.5,144.4 847.8,148.3 853.8,151.8 859.8,149.4 867.7,146.9 875.4,149.5 882.5,155.5 889.9,150.6 897.4,149.4 902.4,150.3 899.5,146.6 899.4,146.1 899.6,145.7 904.9,141.9 914.9,140.6 925.1,141.9 935.1,144.4 942.3,145.6 945,143.2 950.3,143.3 953.1,149.8 955.6,158.6 955.5,159.1 955.2,159.4 949,161.8 942.8,159.6 940.6,165 943.1,171.4 938.4,174 940.4,177.1 946.6,180.8 951.6,185.8 951.8,186.4 950.4,190.5 945.5,194.2 941.8,200.2 940.6,205.1 940.2,205.6 932.8,208 928.2,211.5 929.4,217.3 934.4,232.3 935.6,239.9 933.1,255.1 931.8,261.3 931.5,261.7 931.1,261.8 930.7,261.5 928.3,257.8 924.5,250.3 916.9,237.5 916.9,229.9 920.6,207.5 919.4,200.2 917.3,197 914.3,199.2 912.9,205.4 906.7,211.6 904.4,216.2 905.6,219.8 905.3,220.5 900.3,223 892.6,223.1 885.3,225.5 880.5,229.2 876.7,235.3 871.8,250 873,253.4 877.6,255.6 882.4,254.4 882.8,254.5 886.5,257 890.6,263.6 893.9,271.8 892.1,280.1 889.8,293 888,298.9 885,303.7 881.3,305.3 879.5,306.5 878.9,306.5 878.4,306.2 878.1,305.6 878.6,301.3 876.5,299.5 877.5,296.3 878.1,290.7 874.7,285.7 870.2,282.8 869.5,280.4 859.6,275.5 851.3,268.8 845,264 840.5,267.1 837.1,275.5 830.1,280.6 821.8,282.3 809.9,283.9 799.9,282.3 794.7,278.8 788.6,276.8 787.3,280.2 786.8,280.6 776.9,282.3 768.6,285.5 761.6,289.9 754.7,288.8 746.4,283.8 733,277.2 728.2,272.4 720.2,275.6 719.6,275.5 713.1,269.9 708.5,270.6 700.3,275.5 693.8,280.4 690.3,287.8 680,286.6 668.5,286.6 662.5,290.2 665.5,296.4 665.5,297.1 660.7,303.4 663.9,309.9 665.6,318.2 665.4,318.7 664,320.1 663.4,320.3 656.5,318 649.4,316.8 642.4,314.5 642.1,314.2 639.7,309.1 644.2,304.4 641.2,296.3 638.7,293.1 635.4,291.5 625.6,284 622.4,284.8 622,284.7 621.7,284.3 620.9,280.3 618.6,277.1 615.2,274.5 611.6,271 609.9,265.9 609.1,260.8 610.8,257.2 609.9,252.4 610,252 611.7,249.4 614.1,243.8 607.4,217.2 605.8,213.6 605.8,213 607.5,210.3 607.9,210 612.3,209 617.4,209.5 622.5,210.8 627.6,213 632,217.1 634.4,221.8 633.5,225.5 633.2,225.9 629.7,227.7 623.8,228 619.6,226.8 617.1,224.8 616.1,224.7 616.9,228.3 620.9,230.7 626.5,234.8 628.7,233.3 632,231.7 633.8,228.2 640.3,225 641.1,221.3 638.5,217.8 640.6,214.7 643.5,215.5 643.8,215.8 645.3,218.8 647.2,218.1 650.7,215.5 659.1,212.2Z M667.7,156.6 668.8,156.5 672.2,158.2 672.7,158.7 672.8,159.4 671.9,163.5 671.5,164.1 667.4,167.5 663.4,171.5 660.2,177.1 658.6,183.4 659.4,189.7 661.8,195.3 664.2,199.4 664.3,200.4 663.6,201.1 660.3,201.9 659.5,201.8 654.5,199.3 650.2,196.7 649.7,196 648.9,190.5 650.6,184.8 651.5,177.9 654.1,171.1 657.5,165.9 665,158.4Z M696.1,112.4 696.3,112 696.8,111.9 700.9,112.7 701.3,113 704.7,118 704.8,118.5 702.8,123 698.1,121.9 697.7,121.5 695.7,116.9Z M703.6,121 703.7,120.5 704.1,120.2 709.5,119.5 714.8,123.1 717.3,129 717.2,129.5 716.8,129.8 711.8,130.6 706.4,128 706.1,127.7Z M719.4,123.4 719.6,122.9 720.1,122.7 725.1,123.6 729.7,128.8 729.7,129.5 727,133.8 723.3,135.5 722.8,135.6 722.4,135.2 720.2,129.4Z M645.7,124.8 645.8,124.4 646.2,124.1 649.1,123.6 649.6,123.7 649.8,124.1 650.2,127.8 647.2,129.2 646.7,129.2 646.4,128.8Z M641.9,129.3 642,128.8 642.4,128.6 645.7,128.1 646.2,128.2 646.4,128.6 646.8,132.8 643.1,133.9 642.7,133.8 642.4,133.4Z M621.5,134.3 621.4,133.8 621.7,133.5 625.7,131.5 626.2,131.4 626.5,131.7 628.5,135.7 628.6,136.2 628.3,136.5 624.3,138.5 623.8,138.6 623.5,138.3Z M628.4,129.2 628.4,128.8 628.8,128.4 633.8,126.4 634.2,126.4 634.6,126.8 636.6,131.8 636.6,132.2 636.2,132.6 631.2,134.6 630.8,134.6 630.4,134.2Z M635.4,124.1 635.5,123.7 635.9,123.4 639.9,122.4 640.3,122.5 640.6,122.9 641.6,127.9 641.5,128.3 641.1,128.6 637.1,129.6 636.7,129.5 636.4,129.1Z M631.4,136.1 631.5,135.7 631.9,135.4 635.9,134.4 636.3,134.5 636.6,134.9 637.6,138.9 637.5,139.3 637.1,139.6 633.1,140.6 632.7,140.5 632.4,140.1Z M646.6,209.4 646.8,209 647.2,208.8 649.8,209 650,211.6 649.8,212 647.2,212.2 646.8,212Z M800.6,125.1 800.7,124.7 801.1,124.4 807.4,123.2 813.8,124.4 817.3,123.2 817.8,123.3 818.1,123.6 819.4,127.7 814,131.8 807.7,134.4 807.2,134.3 802.2,131.7 801.9,131.3Z M822,124.1 822,123.5 822.4,123.2 829.9,122.4 830.4,122.5 830.6,122.9 831.1,125.7 831,126.2 830.6,126.4 823.9,127.1 823.3,126.8Z M818.9,139.7 819,139.2 819.4,138.9 825.3,138.3 826.8,141.8 826.7,142.3 826.3,142.6 820.2,143Z M955.6,144.7 955.7,144.2 956.1,143.9 959.9,143.4 960.4,143.5 960.6,144 960.6,147.5 960.4,147.9 960,148.1 956.6,148Z M891.1,256.8 891.2,256.4 891.6,256.1 892,256.2 894.9,258.1 898.3,269.8 900.9,279.8 904.3,288.5 904.3,288.9 904,289.2 900.5,288.3 900.1,287.9 896.1,278.5 892.7,266.9Z M593.5,275.6 593.6,275.2 594,274.9 599.5,274.4 600,274.5 600.2,274.9 600.5,277.1 600.4,277.6 599.9,277.8 594.6,278.1 594,277.6Z M536.7,299.7 536.7,299.2 537,298.8 541.8,297.6 544.5,294.9 548,294 551.4,291.3 551.9,291.2 554.7,291.9 557.1,294.1 561,296.2 564.5,297.5 564.9,298.2 564.2,301.6 562.8,305.1 564.2,311.8 562.7,315 559,316.7 555.4,316.7 551.7,318.1 548.1,317.4 544.7,316 544.3,315.4 544.3,306.6 541.8,304.1 538.4,302.8Z M567.6,319.6 567.9,319.1 569.1,318.4 569.5,318.3 570,318.8 570.5,323 570.3,323.6 568.5,324.8 568.1,324.6 567.9,324.2Z M563,310 563.2,309.4 566,307.3 566.5,307.2 569.8,307.9 573.2,305.8 576.7,305.1 577.2,305.3 579.5,307.8 577.4,310.9 576.8,313.2 579.3,316.4 582.8,319.9 586.1,322.6 590.4,324.6 593.2,326.7 593.4,327.1 593.3,327.5 590.9,328.5 589.4,328.1 589.8,331 587.7,334.5 587.4,334.8 586.9,334.7 585.5,334 585.2,333.4 585.9,330.2 576.4,320.7 573.6,317.2 570.9,314.5 568.5,313.9 565.8,314.6 565.3,314.5 563.5,313.1 563.3,312.7Z M579.2,335.8 579,335.4 579.1,335 579.5,334.7 584.3,333.6 586.6,333.8 587,334.1 587,334.6 585.4,338.1 581.6,337.5Z M567.2,325.2 567.6,324.5 570.1,323.8 570.7,323.9 570.9,324.4 571.2,330.7 570.8,331.3 568.7,332 568.2,331.9 567.9,331.5Z M567.9,337.5 568.5,337 574.7,336.7 576.5,342.5 575,347.3 573.9,352.7 572.8,356.7 572.5,357 572,357.1 571.7,356.8 570.2,353.9 566.6,345.1Z M557.4,405 558,404.5 564.5,404.1 571.1,405.6 583.1,404.5 583.7,404.8 585.9,408.1 586,408.6 584.4,414.1 581.5,418.6 572.6,423.2 568.2,427.6 564.5,430.3 560.8,427.6 557.6,424.2 555.3,419.7Z M636.5,349.5 638.1,349 638.4,353 637.9,356.9 636.7,354.5 636.2,351.5Z M638.6,345.2 640.6,344.5 640.9,344.6 640.4,347.2 638.5,347.4Z M639.4,350.9 639.8,350.7 642.3,351.4 646.4,348.7 648.3,349.4 648.5,349.7 648.1,351.7 644.7,353.2 645.6,356.2 644.6,359.1 640.5,360.9 640.2,360.8 638.5,359.3 638.8,356.3 638.5,353Z M899.1,446.3 899.2,445.8 899.6,445.5 905.8,444.8 906.4,445.1 909.3,450 915.2,447.9 924.8,449.3 924.8,467.9 924,468 919.3,465 912.3,459.4 906.1,455.7 900.9,451.1Z M888.9,439.4 889.3,438.7 891.8,437.9 893.2,440.2 893.2,440.8 891.8,443.7 891.4,444 890.9,443.9 889.4,442.7 889.2,442.3Z M884.5,452.2 885,451.6 889.2,451 893.4,451.2 897.8,452.1 898.2,452.4 898.3,452.8 898,454 897.3,454.5 892.7,454.1 885.1,454.2 884.7,454 884.5,453.6Z M802.6,428.4 802.9,428 807.1,427.7 811.1,431.3 815.9,436.1 821.6,440.9 826.4,445.7 830.4,450.6 832.4,454.7 831.2,458.8 827.6,458.2 818.8,451 814.7,446.1 804,431.4Z M831.5,460.5 831.8,460.1 836.6,459.8 841.6,461.4 846.4,462.1 851.2,464.1 856,465.3 856.2,465.5 856.5,467.4 851,467.2 845.4,465.6 839.9,464.7 834.9,463.6 832,462.3Z M840.4,439.5 840.8,439.2 844,440.8 848.6,440.5 853.3,438.4 856.6,435.3 858.4,432 861.6,431.5 861.9,431.7 863.5,435.4 864.3,440.3 861,449.4 857.8,453.4 853.6,454.3 848.6,451.9 844.4,451.8 842,447.8 840.4,443.6Z M866.9,445.9 870.3,441.6 875.2,440.5 880,440.8 882.9,439.2 883.3,439.3 882.8,442 882.6,442.2 878.5,443.4 873.7,443.8 871.6,445.9 873.8,449 877.8,450.5 878,450.8 876.3,452.6 876,452.7 872.4,451.3 873.1,454.6 875.6,457.2 873.8,458.7 873.4,458.7 870.2,455.8 869.6,452.9 868.8,455.7 868.3,458.8 867.9,459.1 866.1,458.1Z M858.8,466.5 859.2,466.3 865.6,466.4 866,466.6 866.2,467 866.2,468.3 866,468.7 865.6,468.9 859.2,468.7 858.8,468.5 858.6,468.1Z M867.6,466.6 868,466.4 875.3,466.3 875.7,466.5 875.9,466.9 875.9,468.1 875.7,468.5 875.3,468.7 868,468.9 867.6,468.7 867.4,468.3Z M877.2,470.1 877.6,469.8 883.2,469 883.6,469.1 883.9,469.5 884.2,470.9 884.1,471.3 883.7,471.6 878.1,472.4 877.7,472.3 877.4,471.9Z M867.7,390.5 868,390.2 872,390.2 872.3,390.5 873.1,396.1 871.5,400.8 873.9,404.1 872,406 869.4,402.7 867.2,398.6Z M873.8,407.8 873.9,407.4 874.3,407.1 877.2,406.8 877.5,407.2 878.3,411.3 878.2,411.7 877.8,412 875,412.3 874.7,411.9Z M878,409.5 878.3,409.2 880.7,408.4 881.2,408.5 881.5,408.8 883.1,413.1 882.3,417.1 882,417.5 881.5,417.6 879.6,416.8 879.2,416.3Z M874.3,414.7 874.4,414.3 874.8,414 877.6,413.5 878.1,413.6 878.3,414 878.6,417.7 875.7,418.4 875.3,418.3 875,417.9Z M877.4,419.2 881.8,417.5 885.8,418.3 886,418.5 886.8,422.8 884.4,426.8 884,426.9 880.8,426.1 879.1,423.6 875.8,422.2Z M861.8,418.1 861.9,417.6 866.4,411.8 866.9,411.6 867.3,411.8 868.1,412.6 868.2,413.4 863.8,419.2 863.4,419.4 862.9,419.2Z"/>
<path fill="#e04a35" stroke="#fafafa" stroke-width="0.8" stroke-linejoin="round" d="M580.5,280 580.9,279.5 585.6,277.4 590.6,276.6 600.5,278 600.9,278.3 603.1,282 604.4,291.4 602.2,295 600.1,297.1 599.6,297.3 595.4,296.6 583.1,292.5 582.7,292.1 580.9,287.6Z"/>
<path fill="#d8d8d8" stroke="#fafafa" stroke-width="0.5" d="M617,522.5 619.6,520.4 622.8,521.1 623.5,523.9 621.1,526.3 617.9,525.6Z"/>
<rect x="330" y="566" width="90" height="44" fill="url(#fadeS)"/><rect x="330" y="610" width="90" height="12" fill="#fafafa"/>
<rect x="926.5" y="444" width="26" height="30" fill="url(#fadeE)"/><rect x="952" y="444" width="8" height="30" fill="#fafafa"/>
<!-- CC icons -->
<g fill="none" stroke="#6e6e6e" stroke-width="2.5">
<circle cx="38.6" cy="636.9" r="12.2"/><circle cx="71.1" cy="636.9" r="12.2"/><circle cx="103.8" cy="636.9" r="12.2"/>
</g>
<g fill="#6e6e6e">
<text x="38.4" y="641.3" font-family="Liberation Sans, sans-serif" font-weight="bold" font-size="15.5" text-anchor="middle" letter-spacing="-0.8">cc</text>
<circle cx="71" cy="629.3" r="2.1"/><path d="M67.3,632.4h7.4v6.6h-1.8v6.2h-3.8v-6.2h-1.8z"/>
<rect x="97.5" y="631.8" width="12" height="2.8"/><rect x="97.5" y="638" width="12" height="2.8"/>
</g>
<!-- statista icon -->
<g>
<rect x="909.5" y="641" width="25.5" height="25.5" fill="#14304b"/>
<path d="M909.5,658.5 C917.5,658.5 919.5,655 922.3,650.5 C925.3,645.5 927.5,641 935,641 L935,648.3 C929.5,648.5 928,651 925.5,655.2 C922.5,660.5 920,666.5 909.5,666.5 Z" fill="#fafafa"/>
</g>
</svg>
<h1>What is the Biggest Threat to Your Country?</h1>
<h2>Most commonly cited threats by respondents in countries around the world<sup>*</sup></h2>
<div class="leg" style="top:444.5px"><i style="background:#3aab90"></i><span>Climate change</span></div>
<div class="leg" style="top:476px"><i style="background:#7b5596"></i><span>Cyberattacks</span></div>
<div class="leg" style="top:507px"><i style="background:#0f2a43"></i><span>ISIS</span></div>
<div class="leg" style="top:538.7px"><i style="background:#e04a35"></i><span>Russia's power and influence</span></div>
<div class="foot" style="top:626.7px">* Approximately 1,000-1,500 respondents per country, May-July 2018</div>
<div class="foot" style="top:651.4px">Source: Pew Research Center</div>
<div class="handle">@StatistaCharts</div>
<div class="logo">statista</div>
</body>
</html>
